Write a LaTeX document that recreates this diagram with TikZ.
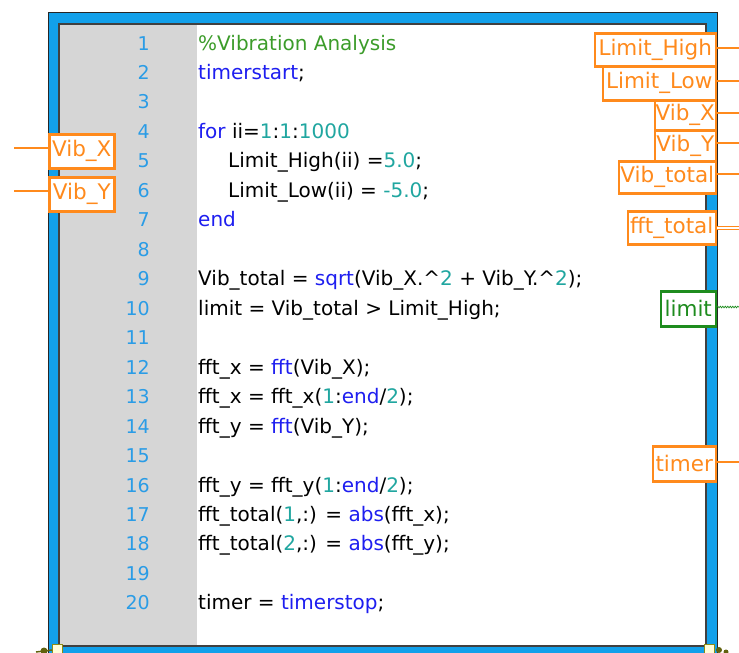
\documentclass[tikz,border=0pt]{standalone}
\usepackage{fontspec}
\setmainfont{DejaVu Sans}
\usepackage{xcolor}
\usetikzlibrary{decorations.pathmorphing}

\definecolor{lvblue}{HTML}{12A0EA}
\definecolor{lvgray}{HTML}{D6D6D6}
\definecolor{lvorange}{HTML}{FF8A1C}
\definecolor{lvgreen}{HTML}{1E8C1E}
\definecolor{cmtgreen}{HTML}{3C9C2A}
\definecolor{kwblue}{HTML}{1E1EF0}
\definecolor{numteal}{HTML}{20A6A0}
\definecolor{lnblue}{HTML}{2A9CE6}
\definecolor{termolive}{HTML}{8C8C14}

\newcommand{\kw}[1]{\textcolor{kwblue}{#1}}
\newcommand{\nm}[1]{\textcolor{numteal}{#1}}
\newcommand{\cmt}[1]{\textcolor{cmtgreen}{#1}}
\newcommand{\pw}{.\textasciicircum}

\tikzset{
	tunnel/.style={draw=lvorange, line width=2.5pt, fill=white, text=lvorange,
		font=\fontsize{21.5}{21.5}\selectfont, inner sep=0pt},
	booltunnel/.style={tunnel, draw=lvgreen, text=lvgreen},
	wire/.style={lvorange, line width=2.5pt},
	codeline/.style={anchor=base west, inner sep=0pt, font=\fontsize{20}{20}\selectfont},
	linenum/.style={anchor=base east, inner sep=0pt, text=lnblue, font=\fontsize{19}{19}\selectfont}
}

\begin{document}
\begin{tikzpicture}[x=1pt,y=-1pt]
	\useasboundingbox (0,0) rectangle (739,653);

	% loop frame
	\fill[lvblue] (48,12) rectangle (718,670);
	\draw[black!85, line width=1pt] (48.5,12.5) rectangle (717.5,670);
	\fill[white] (59,24) rectangle (706,646);
	\fill[lvgray] (59,24) rectangle (197,646);
	\draw[black!75, line width=1.2pt] (59,24) rectangle (706,646);

	% line numbers
	\foreach \n in {1,...,20}{
		\node[linenum] (ln\n) at (150,{50+(\n-1)*29.47}) {\n};
	}

	% script
	\foreach \n/\x/\code in {
		1/198/{\cmt{\%Vibration Analysis}},
		2/198/{\kw{timerstart};},
		4/198/{\kw{for} ii=\nm{1}:\nm{1}:\nm{1000}},
		5/228/{Limit\_High(ii) =\nm{5.0};},
		6/228/{Limit\_Low(ii) = \nm{-5.0};},
		7/198/{\kw{end}},
		9/198/{Vib\_total = \kw{sqrt}(Vib\_X\pw\nm{2} + Vib\_Y\pw\nm{2});},
		10/198/{limit = Vib\_total > Limit\_High;},
		12/198/{fft\_x = \kw{fft}(Vib\_X);},
		13/198/{fft\_x = fft\_x(\nm{1}:\kw{end}/\nm{2});},
		14/198/{fft\_y = \kw{fft}(Vib\_Y);},
		16/198/{fft\_y = fft\_y(\nm{1}:\kw{end}/\nm{2});},
		17/198/{fft\_total(\nm{1},:) = \kw{abs}(fft\_x);},
		18/198/{fft\_total(\nm{2},:) = \kw{abs}(fft\_y);},
		20/198/{timer = \kw{timerstop};}
	}{
		\node[codeline] (code\n) at (\x,{50+(\n-1)*29.47}) {\code};
	}

	% input tunnels
	\node[tunnel, anchor=north west, minimum width=65pt, minimum height=34pt] (inVibX) at (48,133) {Vib\_X};
	\node[tunnel, anchor=north west, minimum width=65pt, minimum height=34pt] (inVibY) at (48,176) {Vib\_Y};
	\coordinate (srcX) at (14,148);
	\coordinate (srcY) at (14,191);
	\draw[wire] (srcX) -- (srcX -| inVibX.west);
	\draw[wire] (srcY) -- (srcY -| inVibY.west);

	% output tunnels
	\node[tunnel, anchor=north east, minimum width=121pt, minimum height=33pt] (outHigh) at (717,32) {Limit\_High};
	\node[tunnel, anchor=north east, minimum width=113pt, minimum height=34pt] (outLow) at (717,65) {Limit\_Low};
	\node[tunnel, anchor=north east, minimum width=61pt, minimum height=30pt] (outVibX) at (717,99) {Vib\_X};
	\node[tunnel, anchor=north east, minimum width=61pt, minimum height=31pt] (outVibY) at (717,129) {Vib\_Y};
	\node[tunnel, anchor=north east, minimum width=97pt, minimum height=32pt] (outTotal) at (717,160) {Vib\_total};
	\node[tunnel, anchor=north east, minimum width=88pt, minimum height=33pt] (outFFT) at (717,210) {fft\_total};
	\node[booltunnel, anchor=north east, minimum width=55pt, minimum height=35pt] (outLimit) at (717,290) {limit};
	\node[tunnel, anchor=north east, minimum width=63pt, minimum height=35pt] (outTimer) at (717,445) {timer};

	\coordinate (dHigh) at (739,48);
	\coordinate (dLow) at (739,81);
	\coordinate (dVibX) at (739,113);
	\coordinate (dVibY) at (739,143);
	\coordinate (dTotal) at (739,174);
	\coordinate (dFFT) at (739,228);
	\coordinate (dLimit) at (739,307);
	\coordinate (dTimer) at (739,462);

	\draw[wire] (outHigh.east |- dHigh) -- (dHigh);
	\draw[wire] (outLow.east |- dLow) -- (dLow);
	\draw[wire] (outVibX.east |- dVibX) -- (dVibX);
	\draw[wire] (outVibY.east |- dVibY) -- (dVibY);
	\draw[wire] (outTotal.east |- dTotal) -- (dTotal);
	\draw[lvorange, line width=0.9pt, double=white, double distance=2.2pt] (outFFT.east |- dFFT) -- (dFFT);
	\draw[lvgreen, line width=0.7pt, decorate, decoration={snake, amplitude=0.8pt, segment length=2.5pt}] (outLimit.east |- dLimit) -- (dLimit);
	\draw[lvorange, line width=1.5pt] (outTimer.east |- dTimer) -- (dTimer);

	% corner terminals
	\draw[termolive, fill=yellow!15, line width=1pt] (52,644) rectangle (62,656);
	\fill[termolive!70!black] (44,651) circle (3.5pt);
	\draw[termolive!70!black, line width=1.5pt] (36,652) -- (52,650);
	\draw[termolive, fill=yellow!15, line width=1pt] (704,644) rectangle (714,656);
	\fill[termolive!70!black] (719,650) circle (3pt);
	\fill[termolive!70!black] (726,652) circle (2.5pt);
\end{tikzpicture}
\end{document}
